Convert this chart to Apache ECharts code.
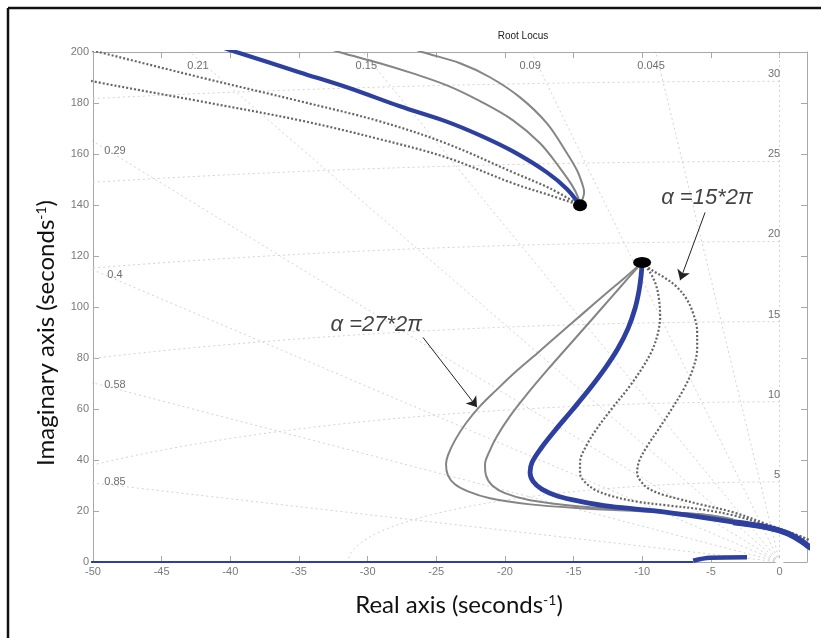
<!DOCTYPE html>
<html>
<head>
<meta charset="utf-8">
<script src="https://cdn.jsdelivr.net/npm/echarts@6/dist/echarts.min.js"></script>
<style>
  html, body { margin: 0; padding: 0; background: #fff; }
  #chart { width: 821px; height: 638px; }
</style>
</head>
<body>
<div id="chart"></div>
<script>
// ---- Root-locus branches: [real part, imaginary part] in s^-1 ----
const upperPole = [-14.53, 139.9];
const lowerPole = [-10.01, 117.5];

// Upper branch, leaving the complex pole towards the upper left
const upperGrayA = [[-14.53,139.9],[-14.38,141.8],[-14.23,145.0],[-14.38,148.5],[-14.75,153.6],[-15.47,160.2],[-16.94,172.0],[-18.90,182.2],[-21.09,190.1],[-23.27,195.6],[-25.97,199.9],[-26.8,201.5]];
const upperGrayB = [[-14.53,139.9],[-14.67,143.0],[-15.11,147.7],[-15.98,154.4],[-17.44,164.2],[-19.41,173.2],[-21.81,180.7],[-24.22,186.9],[-26.70,191.6],[-29.11,195.6],[-32.03,199.9],[-32.9,201.5]];
const upperBlue  = [[-14.53,139.9],[-15.47,146.2],[-16.94,152.8],[-19.41,161.0],[-21.81,167.3],[-24.29,172.8],[-27.65,178.7],[-31.30,185.8],[-34.93,192.0],[-39.52,199.9],[-40.4,201.5]];
const upperDotA  = [[-14.53,139.9],[-16.71,146.5],[-19.41,152.8],[-24.29,164.2],[-29.11,172.8],[-34.93,180.7],[-42.22,190.1],[-49.51,199.9],[-50.5,201.2]];
const upperDotB  = [[-14.53,139.9],[-16.71,143.8],[-19.41,148.5],[-24.29,158.7],[-29.11,165.8],[-34.93,173.2],[-42.22,180.7],[-50.0,188.5],[-51.0,190.0]];

// Lower branch, sweeping left and then back towards the origin
const lowerGrayA = [[-10.01,117.5],[-11.25,111.6],[-12.70,105.0],[-14.31,97.5],[-15.98,89.7],[-17.66,81.8],[-19.26,74.4],[-20.65,67.3],[-21.81,61.1],[-22.84,54.4],[-23.64,47.7],[-24.15,41.8],[-24.29,38.3],[-24.15,34.0],[-23.64,30.5],[-22.69,27.7],[-21.09,25.0],[-18.17,22.6],[-14.53,21.1],[-10.15,19.9],[-5.78,18.7],[-3.37,16.7]];
const lowerGrayB = [[-10.01,117.5],[-11.03,111.3],[-12.19,104.2],[-13.65,95.2],[-15.26,85.4],[-16.86,75.6],[-18.39,65.8],[-19.63,57.2],[-20.58,49.3],[-21.16,43.0],[-21.45,38.3],[-21.38,34.0],[-20.94,30.1],[-20.00,27.0],[-18.17,24.2],[-14.53,21.8],[-10.15,20.3],[-5.78,18.7],[-3.37,16.7]];
const lowerBlue  = [[-10.01,117.5],[-10.08,112.4],[-10.23,106.5],[-10.52,99.5],[-11.03,91.6],[-11.76,83.8],[-12.70,76.0],[-13.80,68.1],[-15.11,59.5],[-16.35,51.6],[-17.37,44.6],[-18.02,39.1],[-18.17,35.2],[-17.95,31.6],[-17.29,28.5],[-16.13,25.8],[-14.53,23.8],[-12.34,21.8],[-8.19,19.5],[-3.37,15.6],[-0.90,13.6],[0.56,11.3],[1.51,8.5],[2.02,6.5],[2.6,4.5]];
const lowerDotA  = [[-10.01,117.5],[-9.43,113.6],[-8.99,108.5],[-8.77,102.6],[-8.70,96.7],[-8.84,90.1],[-9.28,83.0],[-10.01,76.0],[-11.03,68.1],[-12.19,60.3],[-13.29,52.4],[-14.09,45.4],[-14.53,39.1],[-14.53,34.8],[-14.16,31.3],[-13.36,28.1],[-12.19,25.8],[-10.52,23.8],[-8.19,22.2],[-5.78,20.7],[-3.37,18.3],[-0.90,14.4],[1.51,10.1],[2.02,8.9],[2.6,7.5]];
const lowerDotB  = [[-10.01,117.5],[-9.28,114.4],[-8.40,111.6],[-7.53,108.1],[-6.80,103.4],[-6.29,97.5],[-6.00,90.5],[-6.00,83.8],[-6.29,76.0],[-6.95,68.1],[-7.82,60.3],[-8.77,52.4],[-9.64,45.4],[-10.23,39.5],[-10.37,34.8],[-10.15,32.0],[-9.57,28.9],[-8.55,26.5],[-7.24,24.6],[-5.78,22.6],[-3.37,19.5],[-0.90,14.8],[1.51,10.1],[2.02,8.9],[2.6,7.5]];

// Real-axis branch and the branch just above it
const realAxisBranch = [[-50.5,0],[-6.29,0]];
const nearAxisBranch = [[-6.29,0.5],[-5.06,1.7],[-2.37,1.9]];
const originZero = [0, 0];

// ---- s-plane grid: damping ratios and natural frequencies (Hz) ----
const dampingRatios = [0.045, 0.09, 0.15, 0.21, 0.29, 0.4, 0.58, 0.85];
const dampingLabels = ['0.045', '0.09', '0.15', '0.21', '0.29', '0.4', '0.58', '0.85'];
const freqHz = [5, 10, 15, 20, 25, 30];
const freqLabels = ['5', '10', '15', '20', '25', '30'];

// Axis ticks
const xTickStep = 5, xMin = -50, xMax = 2;
const yTickStep = 20, yMin = 0, yMax = 200;

// Annotations
const note27 = 'α =27*2π';
const note15 = 'α =15*2π';
const note27At = [-29.37, 92.8];
const note15At = [-5.29, 142.6];
const arrow27 = [[-25.97, 88.1], [-22.03, 60.7]];
const arrow15 = [[-5.42, 137.1], [-7.24, 110.5]];

// ---------------------------------------------------------------
const BLUE = '#2d3f9f';
const GRAY = '#858585';
const DOT  = '#666666';
const GRID = '#d2d2d2';

const gridSeries = [];
// radial constant-damping lines (plus the imaginary axis)
[0].concat(dampingRatios).forEach(z => {
  const R = 400;
  gridSeries.push({
    type: 'line', data: [[0, 0], [-R * z, R * Math.sqrt(1 - z * z)]],
    symbol: 'none', silent: true, z: 1,
    lineStyle: { color: GRID, width: 1, type: [2, 3] }
  });
});
// constant natural-frequency circles
freqHz.forEach(f => {
  const r = 2 * Math.PI * f, pts = [];
  for (let d = 90; d <= 180; d += 1) {
    const a = d * Math.PI / 180;
    pts.push([r * Math.cos(a), r * Math.sin(a)]);
  }
  gridSeries.push({
    type: 'line', data: pts, symbol: 'none', silent: true, z: 1,
    lineStyle: { color: GRID, width: 1, type: [2, 3] }
  });
});

// grid labels
const dampLabelData = dampingRatios.map((z, i) => {
  const t = Math.sqrt(1 - z * z) / z;
  const pos = (t * 50 > 200) ? [-194.4 / t - 0.6, 194.4] : [-48.4, 48.4 * t + 1.5];
  return { name: dampingLabels[i], value: pos };
});
const freqLabelData = freqHz.map((f, i) => ({ name: freqLabels[i], value: [0.05, 2 * Math.PI * f + 2.8] }));

function curve(data, color, width, dashed, z) {
  return {
    type: 'line', data: data, smooth: 0.35, symbol: 'none', silent: true, z: z,
    lineStyle: { color: color, width: width, type: dashed ? [2, 2] : 'solid', cap: 'butt' }
  };
}

const chart = echarts.init(document.getElementById('chart'), null, { renderer: 'canvas' });

const axisCommon = {
  type: 'value',
  axisLine: { show: true, onZero: false, lineStyle: { color: '#a8a8a8', width: 1 } },
  axisTick: { show: true, inside: true, length: 6, lineStyle: { color: '#a8a8a8' } },
  splitLine: { show: false }
};
const tickFont = { color: '#7a7a7a', fontSize: 11, fontFamily: 'Liberation Sans' };
const titleRich = {
  a: { fontSize: 24, fontFamily: 'Lato', fill: '#111' },
  s: { fontSize: 14, fontFamily: 'Lato', fill: '#111', verticalAlign: 'top' }
};

chart.setOption({
  animation: false,
  backgroundColor: '#ffffff',
  grid: { left: 93, right: 14, top: 52, bottom: 76, containLabel: false },
  xAxis: [
    Object.assign({}, axisCommon, { position: 'bottom', min: xMin, max: xMax, interval: xTickStep,
      axisLabel: Object.assign({ margin: 4, showMaxLabel: false }, tickFont) }),
    Object.assign({}, axisCommon, { position: 'top', min: xMin, max: xMax, interval: xTickStep,
      axisLabel: { show: false } })
  ],
  yAxis: [
    Object.assign({}, axisCommon, { position: 'left', min: yMin, max: yMax, interval: yTickStep,
      axisLabel: Object.assign({ margin: 4 }, tickFont) }),
    Object.assign({}, axisCommon, { position: 'right', min: yMin, max: yMax, interval: yTickStep,
      axisLabel: { show: false } })
  ],
  graphic: [
    { type: 'line', shape: { x1: 8, y1: 8, x2: 830, y2: 8 }, style: { stroke: '#111', lineWidth: 2.5 }, silent: true },
    { type: 'line', shape: { x1: 8, y1: 8, x2: 8, y2: 650 }, style: { stroke: '#111', lineWidth: 2.5 }, silent: true },
    { type: 'text', x: 523, y: 36, silent: true,
      style: { text: 'Root Locus', fontSize: 10, fontFamily: 'Liberation Sans', fill: '#222', align: 'center', verticalAlign: 'middle' } },
    { type: 'text', x: 459, y: 605, silent: true,
      style: { text: '{a|Real axis (seconds}{s|-1}{a|)}', align: 'center', verticalAlign: 'middle', rich: titleRich } },
    { type: 'text', x: 46, y: 333, rotation: Math.PI / 2, silent: true,
      style: { text: '{a|Imaginary axis (seconds}{s|-1}{a|)}', align: 'center', verticalAlign: 'middle', rich: titleRich } }
  ],
  series: gridSeries.concat([
    { type: 'scatter', data: dampLabelData, symbolSize: 0, silent: true, z: 2,
      label: { show: true, position: 'inside', formatter: '{b}', color: '#4a4a4a', fontSize: 11, fontFamily: 'Liberation Sans' } },
    { type: 'scatter', data: freqLabelData, symbolSize: 0, silent: true, z: 2,
      label: { show: true, position: 'inside', formatter: '{b}', align: 'right', color: '#4a4a4a', fontSize: 11, fontFamily: 'Liberation Sans' } },

    curve(upperDotA, DOT, 2.2, true, 3),
    curve(upperDotB, DOT, 2.2, true, 3),
    curve(lowerDotA, DOT, 2.2, true, 3),
    curve(lowerDotB, DOT, 2.2, true, 3),
    curve(upperGrayA, GRAY, 2, false, 4),
    curve(upperGrayB, GRAY, 2, false, 4),
    curve(lowerGrayA, GRAY, 2, false, 4),
    curve(lowerGrayB, GRAY, 2, false, 4),
    curve(upperBlue, BLUE, 4.2, false, 5),
    curve(lowerBlue, BLUE, 4.8, false, 5),
    curve(lowerBlue.slice(-6), BLUE, 6, false, 5),
    curve(realAxisBranch, BLUE, 2.2, false, 5),
    curve(nearAxisBranch, BLUE, 4.5, false, 5),

    { type: 'scatter', data: [originZero], symbol: 'emptyCircle', symbolSize: 6, silent: true, z: 6,
      itemStyle: { color: '#fff', borderColor: BLUE, borderWidth: 2, opacity: 1 } },
    { type: 'scatter', data: [upperPole], symbol: 'circle', symbolSize: [14, 12], silent: true, z: 7,
      itemStyle: { color: '#000', opacity: 1 } },
    { type: 'scatter', data: [lowerPole], symbol: 'circle', symbolSize: [18, 11], silent: true, z: 7,
      itemStyle: { color: '#000', opacity: 1 } },

    { type: 'scatter', symbolSize: 0, silent: true, z: 8,
      data: [{ name: note27, value: note27At }, { name: note15, value: note15At }],
      label: { show: true, position: 'inside', formatter: '{b}', color: '#111', fontSize: 22,
        fontStyle: 'italic', fontFamily: 'Liberation Sans' },
      markLine: { silent: true, animation: false, symbol: ['none', 'arrow'], symbolSize: 10,
        lineStyle: { color: '#222', width: 1, type: 'solid' }, label: { show: false },
        data: [[{ coord: arrow27[0] }, { coord: arrow27[1] }], [{ coord: arrow15[0] }, { coord: arrow15[1] }]] } }
  ])
});
</script>
</body>
</html>
